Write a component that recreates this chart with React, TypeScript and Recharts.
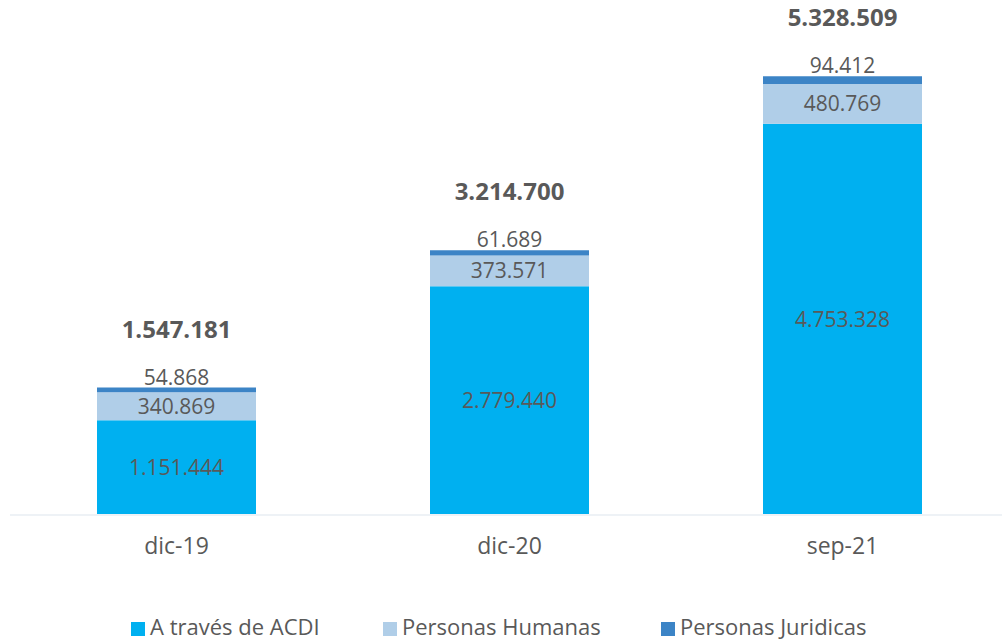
import React from 'react';
import { BarChart, Bar, XAxis, YAxis, LabelList } from 'recharts';

const periods = ['dic-19', 'dic-20', 'sep-21'];
const acdi = [1151444, 2779440, 4753328];
const humanas = [340869, 373571, 480769];
const juridicas = [54868, 61689, 94412];
const totals = [1547181, 3214700, 5328509];

const SERIES = [
  { key: 'acdi', name: 'A través de ACDI', color: '#00B0F0' },
  { key: 'humanas', name: 'Personas Humanas', color: '#B0CEE8' },
  { key: 'juridicas', name: 'Personas Juridicas', color: '#3C84C6' },
];

// legend item left edges (layout only)
const LEGEND_X = [131, 383, 661];

const TEXT = '#595959';
const FONT = '"Open Sans", "Noto Sans", sans-serif';

const fmt = (v: number) => v.toLocaleString('de-DE');

const data = periods.map((p, i) => ({
  period: p,
  acdi: acdi[i],
  humanas: humanas[i],
  juridicas: juridicas[i],
  total: totals[i],
}));

const TotalLabel = (props: any) => {
  const { x, y, width, value } = props;
  return (
    <text x={x + width / 2} y={y - 50} textAnchor="middle" fill={TEXT} fontSize={24} fontWeight={700} fontFamily={FONT}>
      {fmt(value)}
    </text>
  );
};

export default function App() {
  return (
    <div style={{ position: 'absolute', left: 0, top: 0, width: 1002, height: 642, overflow: 'hidden', background: '#fff', fontFamily: FONT }}>
      <BarChart width={1012} height={600} data={data} margin={{ top: 21, right: 3, left: 10, bottom: 35 }}>
        <XAxis
          dataKey="period"
          height={50}
          tickLine={false}
          tickSize={0}
          tickMargin={23}
          axisLine={{ stroke: '#EEF2F6', strokeWidth: 2 }}
          tick={{ fill: TEXT, fontSize: 23, fontFamily: FONT }}
        />
        <YAxis hide domain={[0, 6000000]} />
        <Bar dataKey="acdi" stackId="a" fill={SERIES[0].color} barSize={159} isAnimationActive={false}>
          <LabelList dataKey="acdi" position="center" formatter={(v: any) => fmt(Number(v))} fill={TEXT} fontSize={21} fontFamily={FONT} />
        </Bar>
        <Bar dataKey="humanas" stackId="a" fill={SERIES[1].color} barSize={159} isAnimationActive={false}>
          <LabelList dataKey="humanas" position="center" formatter={(v: any) => fmt(Number(v))} fill={TEXT} fontSize={21} fontFamily={FONT} />
        </Bar>
        <Bar dataKey="juridicas" stackId="a" fill={SERIES[2].color} barSize={159} isAnimationActive={false}>
          <LabelList dataKey="juridicas" position="top" offset={3} formatter={(v: any) => fmt(Number(v))} fill={TEXT} fontSize={21} fontFamily={FONT} />
          <LabelList dataKey="total" content={<TotalLabel />} />
        </Bar>
      </BarChart>
      {SERIES.map((s, i) => (
        <div
          key={s.key}
          style={{ position: 'absolute', top: 611, left: LEGEND_X[i], display: 'flex', alignItems: 'center', color: TEXT, fontSize: 22, lineHeight: '30px', whiteSpace: 'nowrap' }}
        >
          <span style={{ display: 'inline-block', width: 14, height: 14, background: s.color, marginRight: 5, marginTop: 6 }} />
          {s.name}
        </div>
      ))}
    </div>
  );
}
